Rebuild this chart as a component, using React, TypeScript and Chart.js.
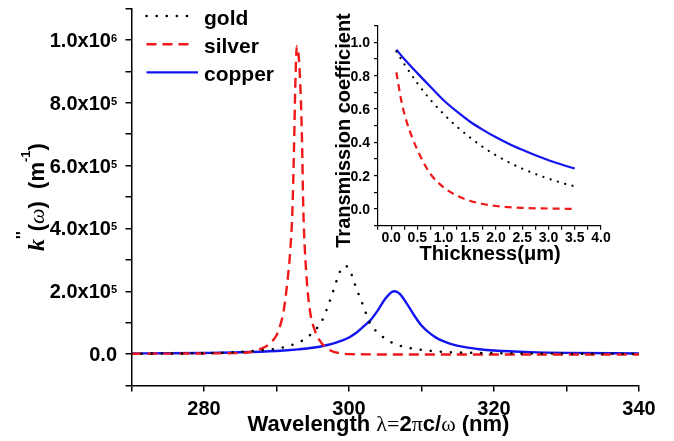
import React, { useEffect, useRef } from 'react';
import { Chart, registerables } from 'chart.js';
Chart.register(...registerables);

const SANS = '"Liberation Sans", Arial, sans-serif';
const SERIF = '"Liberation Serif", "DejaVu Serif", serif';
const RED = '#f01818';
const BLUE = '#1414f0';

// ---- main plot data: k''(ω) vs wavelength (nm) ----
const goldWl = [270, 275, 280, 285, 287, 289.3, 290.7, 292.1, 293.7, 295.1, 296.2, 296.9, 297.4, 297.9, 298.4, 299.0, 299.5, 300.1, 300.6, 301.2, 301.75, 302.3, 302.9, 304.3, 305.7, 307.3, 308.6, 310.2, 311.6, 313.2, 316.2, 320, 325, 330, 340];
const goldK = [1e3, 2e3, 3e3, 7e3, 1.0e4, 1.5e4, 2.0e4, 2.9e4, 4.5e4, 7.1e4, 1.03e5, 1.4e5, 1.72e5, 2.06e5, 2.41e5, 2.74e5, 2.8e5, 2.7e5, 2.36e5, 1.98e5, 1.67e5, 1.32e5, 9.8e4, 6.2e4, 3.9e4, 2.5e4, 1.8e4, 1.3e4, 9.6e3, 7e3, 5e3, 3e3, 2e3, 1.5e3, 1e3];

const silverWl = [270, 275, 280, 284, 286, 288, 289, 290, 290.5, 291, 291.5, 291.9, 292.2, 292.4, 292.6, 292.8, 293.0, 293.2, 293.5, 293.7, 294.1, 294.6, 295.3, 296, 296.7, 297.8, 299, 300, 310, 320, 340];
const silverK = [1e3, 1.5e3, 2e3, 3e3, 5e3, 1.8e4, 3.2e4, 6e4, 9e4, 1.4e5, 2.3e5, 3.3e5, 4.6e5, 6.4e5, 8.6e5, 9.8e5, 9.6e5, 9.0e5, 7.0e5, 4.6e5, 2.6e5, 1.4e5, 7.5e4, 4.2e4, 2.3e4, 8e3, 2e3, 0, -1.5e3, -1.5e3, -1.5e3];

const copperWl = [270, 275, 280, 285, 290, 293, 295, 297, 298, 299, 300, 301, 302, 303, 304, 305, 306, 306.3, 307, 308, 309, 310, 311, 312, 313, 314, 316, 318, 320, 325, 330, 340];
const copperK = [2e3, 2.5e3, 3.7e3, 5.7e3, 1.0e4, 1.5e4, 2.0e4, 2.9e4, 3.5e4, 4.3e4, 5.3e4, 6.8e4, 8.8e4, 1.09e5, 1.4e5, 1.76e5, 1.99e5, 2.0e5, 1.92e5, 1.6e5, 1.23e5, 9.1e4, 6.9e4, 5.25e4, 4.1e4, 3.25e4, 2.2e4, 1.56e4, 1.16e4, 6.4e3, 4e3, 2e3];

const mainXTickLabels = [280, 300, 320, 340];
const mainYTickValues = [0, 2e5, 4e5, 6e5, 8e5, 1e6];
const mainYTickLabels = ['0.0', '2.0x10^5', '4.0x10^5', '6.0x10^5', '8.0x10^5', '1.0x10^6'];
const legendNames = ['gold', 'silver', 'copper'];

// ---- inset data: transmission coefficient vs thickness (µm) ----
const goldThick = [0.1, 0.25, 0.5, 0.75, 1.0, 1.25, 1.5, 1.75, 2.0, 2.25, 2.5, 2.75, 3.0, 3.25, 3.5];
const goldTrans = [0.945, 0.87, 0.755, 0.655, 0.57, 0.495, 0.43, 0.372, 0.322, 0.279, 0.242, 0.21, 0.182, 0.157, 0.136];
const silverThick = [0.1, 0.2, 0.3, 0.4, 0.5, 0.6, 0.75, 1.0, 1.25, 1.5, 1.75, 2.0, 2.5, 3.0, 3.5];
const silverTrans = [0.82, 0.64, 0.52, 0.43, 0.355, 0.29, 0.21, 0.13, 0.08, 0.05, 0.03, 0.018, 0.007, 0.003, 0.001];
const copperThick = [0.1, 0.25, 0.5, 0.75, 1.0, 1.25, 1.5, 1.75, 2.0, 2.25, 2.5, 2.75, 3.0, 3.25, 3.5];
const copperTrans = [0.955, 0.9, 0.815, 0.733, 0.652, 0.585, 0.525, 0.475, 0.43, 0.39, 0.355, 0.322, 0.293, 0.267, 0.243];

const insetXTickLabels = ['0.0', '0.5', '1.0', '1.5', '2.0', '2.5', '3.0', '3.5', '4.0'];
const insetYTickLabels = ['0.0', '0.2', '0.4', '0.6', '0.8', '1.0'];

type Seg = { t: string; font: string; dy?: number };

function drawRich(ctx: CanvasRenderingContext2D, segs: Seg[], x: number, y: number, align: 'left' | 'center' | 'right') {
  let w = 0;
  for (const s of segs) { ctx.font = s.font; w += ctx.measureText(s.t).width; }
  let cx = align === 'center' ? x - w / 2 : align === 'right' ? x - w : x;
  ctx.textAlign = 'left';
  ctx.textBaseline = 'alphabetic';
  for (const s of segs) {
    ctx.font = s.font;
    ctx.fillText(s.t, cx, y + (s.dy || 0));
    cx += ctx.measureText(s.t).width;
  }
}

const toPts = (xs: number[], ys: number[]) => xs.map((x, i) => ({ x, y: ys[i] }));

const goldStyle = { borderColor: '#000', borderWidth: 2.5, borderDash: [0.1, 10], borderCapStyle: 'round' as const };
const silverStyle = { borderColor: RED, borderWidth: 2.4, borderDash: [10, 6], borderCapStyle: 'butt' as const };
const copperStyle = { borderColor: BLUE, borderWidth: 2.4, borderDash: [] as number[], borderCapStyle: 'butt' as const };

const axisCommon = {
  grid: { display: true, drawOnChartArea: false, drawTicks: true, tickLength: 6, color: '#000', lineWidth: 1.5 },
  border: { display: true, color: '#000', width: 1.5 },
};

const mainTextPlugin = {
  id: 'mainText',
  afterDraw(chart: any) {
    const ctx: CanvasRenderingContext2D = chart.ctx;
    const xs = chart.scales.x;
    const ys = chart.scales.y;
    ctx.save();
    ctx.fillStyle = '#000';
    const B20 = `bold 20px ${SANS}`;
    const B22 = `bold 22px ${SANS}`;
    // y tick labels
    mainYTickValues.forEach((v, i) => {
      const py = ys.getPixelForValue(v);
      const [m, e] = mainYTickLabels[i].split('^');
      const segs: Seg[] = [{ t: m, font: B20 }];
      if (e) segs.push({ t: e, font: `bold 11px ${SANS}`, dy: -5 });
      drawRich(ctx, segs, 117, py + 7, 'right');
    });
    // x tick labels
    mainXTickLabels.forEach((v) => {
      const px = xs.getPixelForValue(v);
      drawRich(ctx, [{ t: String(v), font: B20 }], px, 415, 'center');
    });
    // x title
    drawRich(ctx, [
      { t: 'Wavelength ', font: B22 },
      { t: 'λ', font: `22px ${SERIF}` },
      { t: '=', font: `22px ${SERIF}` },
      { t: '2', font: B22 },
      { t: 'π', font: `22px ${SERIF}` },
      { t: 'c/', font: B22 },
      { t: 'ω', font: `22px ${SERIF}` },
      { t: ' (nm)', font: B22 },
    ], 378.5, 431, 'center');
    // y title (rotated)
    ctx.save();
    ctx.translate(44, 197);
    ctx.rotate(-Math.PI / 2);
    drawRich(ctx, [
      { t: 'k', font: `italic bold 24px ${SERIF}` },
      { t: "''", font: `bold 16px ${SANS}`, dy: -16 },
      { t: '(', font: `bold 22px ${SANS}` },
      { t: 'ω', font: `italic 22px ${SERIF}` },
      { t: ')', font: `bold 22px ${SANS}` },
      { t: '  (m', font: `bold 22px ${SANS}` },
      { t: '-1', font: `bold 13px ${SANS}`, dy: -14 },
      { t: ')', font: `bold 22px ${SANS}` },
    ], 0, 0, 'center');
    ctx.restore();
    // legend
    const styles = [goldStyle, silverStyle, copperStyle];
    const ends = [192, 192, 198];
    legendNames.forEach((name, i) => {
      const base = 24.5 + i * 28.2;
      const ly = base - 8.5;
      const st = styles[i];
      ctx.save();
      ctx.strokeStyle = st.borderColor;
      ctx.lineWidth = st.borderWidth;
      ctx.lineCap = st.borderCapStyle;
      ctx.setLineDash(st.borderDash);
      ctx.beginPath();
      ctx.moveTo(146.5, ly);
      ctx.lineTo(ends[i], ly);
      ctx.stroke();
      ctx.restore();
      drawRich(ctx, [{ t: name, font: `bold 21px ${SANS}` }], 204, base, 'left');
    });
    ctx.restore();
  },
};

const insetTextPlugin = {
  id: 'insetText',
  afterDraw(chart: any) {
    const ctx: CanvasRenderingContext2D = chart.ctx;
    const xs = chart.scales.x;
    const ys = chart.scales.y;
    ctx.save();
    ctx.fillStyle = '#000';
    const B14 = `bold 14px ${SANS}`;
    insetYTickLabels.forEach((t) => {
      const py = ys.getPixelForValue(parseFloat(t));
      drawRich(ctx, [{ t, font: B14 }], 50, py + 5, 'right');
    });
    insetXTickLabels.forEach((t) => {
      const px = xs.getPixelForValue(parseFloat(t));
      drawRich(ctx, [{ t, font: B14 }], px, 242, 'center');
    });
    drawRich(ctx, [{ t: 'Thickness(μm)', font: `bold 20px ${SANS}` }], 170, 259.5, 'center');
    ctx.save();
    ctx.translate(30, 130.5);
    ctx.rotate(-Math.PI / 2);
    drawRich(ctx, [{ t: 'Transmission coefficient', font: `bold 20px ${SANS}` }], 0, 0, 'center');
    ctx.restore();
    ctx.restore();
  },
};

export default function App() {
  const mainRef = useRef<HTMLCanvasElement>(null);
  const insetRef = useRef<HTMLCanvasElement>(null);

  useEffect(() => {
    const line = (label: string, xs: number[], ys: number[], st: any) => ({
      label,
      data: toPts(xs, ys),
      ...st,
      pointRadius: 0,
      fill: false,
      cubicInterpolationMode: 'monotone' as const,
    });

    const main = new Chart(mainRef.current!, {
      type: 'line',
      data: {
        datasets: [
          line('gold', goldWl, goldK, goldStyle),
          line('silver', silverWl, silverK, silverStyle),
          line('copper', copperWl, copperK, copperStyle),
        ],
      },
      options: {
        animation: false,
        responsive: false,
        devicePixelRatio: 1,
        layout: { padding: { top: 8.6, right: 35, left: 0, bottom: 0 } },
        plugins: { legend: { display: false }, tooltip: { enabled: false } },
        scales: {
          x: {
            type: 'linear', min: 270, max: 340,
            ticks: { display: false, stepSize: 10 },
            ...axisCommon,
            afterFit: (s: any) => { s.height = 441 - 385.5; },
          },
          y: {
            type: 'linear', min: -1e5, max: 1.1e6,
            ticks: { display: false, stepSize: 1e5 },
            ...axisCommon,
            afterFit: (s: any) => { s.width = 131.5; },
          },
        },
      },
      plugins: [mainTextPlugin],
    } as any);

    const inset = new Chart(insetRef.current!, {
      type: 'line',
      data: {
        datasets: [
          line('gold', goldThick, goldTrans, { ...goldStyle, borderWidth: 2.2, borderDash: [0.1, 7.5] }),
          line('silver', silverThick, silverTrans, { ...silverStyle, borderWidth: 2.2, borderDash: [7, 5] }),
          line('copper', copperThick, copperTrans, { ...copperStyle, borderWidth: 2.2 }),
        ],
      },
      options: {
        animation: false,
        responsive: false,
        devicePixelRatio: 1,
        layout: { padding: { top: 25.6, right: 73, left: 0, bottom: 0 } },
        plugins: { legend: { display: false }, tooltip: { enabled: false } },
        scales: {
          x: {
            type: 'linear', min: -0.25, max: 4.0,
            ticks: { display: false, stepSize: 0.25 },
            ...axisCommon,
            grid: { ...axisCommon.grid, tickLength: 4, lineWidth: 1.2 },
            border: { ...axisCommon.border, width: 1.2 },
            afterFit: (s: any) => { s.height = 270 - 225.7; },
          },
          y: {
            type: 'linear', min: -0.1, max: 1.1,
            ticks: { display: false, stepSize: 0.1 },
            ...axisCommon,
            grid: { ...axisCommon.grid, tickLength: 4, lineWidth: 1.2 },
            border: { ...axisCommon.border, width: 1.2 },
            afterFit: (s: any) => { s.width = 58; },
          },
        },
      },
      plugins: [insetTextPlugin],
    } as any);

    return () => { main.destroy(); inset.destroy(); };
  }, []);

  return (
    <div style={{ position: 'fixed', left: 0, top: 0, width: 674, height: 441, background: '#fff' }}>
      <canvas ref={mainRef} width={674} height={441} style={{ position: 'absolute', left: 0, top: 0, width: 674, height: 441 }} />
      <canvas ref={insetRef} width={354} height={270} style={{ position: 'absolute', left: 320, top: 0, width: 354, height: 270 }} />
    </div>
  );
}
